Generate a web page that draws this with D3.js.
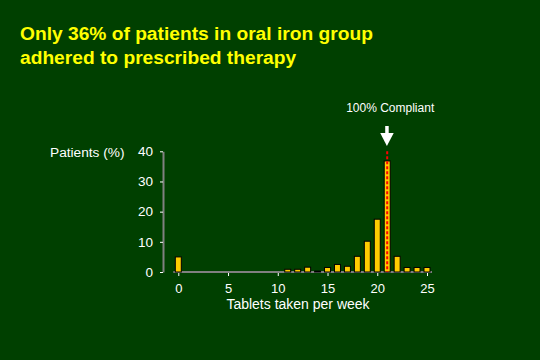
<!DOCTYPE html>
<html>
<head>
<meta charset="utf-8">
<script src="https://cdn.jsdelivr.net/npm/d3@7"></script>
<style>
  html, body { margin: 0; padding: 0; background: #004000; }
  svg { display: block; }
</style>
</head>
<body>
<svg id="chart" width="540" height="360"></svg>
<script>
const titleLines = ["Only 36% of patients in oral iron group", "adhered to prescribed therapy"];
const tablets = [0,1,2,3,4,5,6,7,8,9,10,11,12,13,14,15,16,17,18,19,20,21,22,23,24,25];
const patientsPct = [5,0,0,0,0,0,0,0,0,0,0,0.9,0.9,1.6,0.3,1.5,2.5,1.9,5.2,10.2,17.5,36.8,5.2,1.5,1.5,1.5];
const xTicks = [0,5,10,15,20,25];
const yTicks = [0,10,20,30,40];
const compliantValue = 21;
const compliantLabel = "100% Compliant";
const xLabel = "Tablets taken per week";
const yLabel = "Patients (%)";

const svg = d3.select("#chart");
svg.append("rect").attr("width",540).attr("height",360).attr("fill","#004000");

const font = "Liberation Sans, Arial, sans-serif";

// title
const title = svg.append("text")
  .attr("font-family", font)
  .attr("font-weight", "bold").attr("font-size", 19.2)
  .attr("fill", "#FFFF00");
titleLines.forEach((t,i) => title.append("tspan").attr("x",20).attr("y", 40 + i*23.5).text(t));

const x = d3.scaleLinear().domain([0,25]).range([178.3, 427]);
const y = d3.scaleLinear().domain([0,40]).range([272, 151.3]);

// y axis
const yAxis = svg.append("g").attr("transform","translate(163,0)")
  .call(d3.axisLeft(y).tickValues(yTicks).tickSize(3).tickSizeOuter(0).tickPadding(7));
yAxis.select(".domain").attr("stroke","#808080").attr("stroke-width",2);
yAxis.selectAll(".tick line").attr("stroke","#ffffff").attr("stroke-width",1);
yAxis.selectAll(".tick text").attr("fill","#ffffff").attr("font-family",font).attr("font-size",13.5);

// x axis
const xAxis = svg.append("g").attr("transform","translate(0,273)")
  .call(d3.axisBottom(x).tickValues(xTicks).tickSize(3).tickSizeOuter(0).tickPadding(7.5));
xAxis.select(".domain").remove();
xAxis.selectAll(".tick line").attr("stroke","#ffffff").attr("stroke-width",1);
xAxis.selectAll(".tick text").attr("fill","#ffffff").attr("font-family",font).attr("font-size",13);
svg.append("line")
  .attr("x1", x(-0.5)).attr("x2", x(25.5))
  .attr("y1", 272).attr("y2", 272)
  .attr("stroke","#808080").attr("stroke-width",2);

// bars
svg.append("g").selectAll("rect")
  .data(tablets.map((t,i)=>({t, v: patientsPct[i]})).filter(d => d.v > 0))
  .join("rect")
  .attr("x", d => x(d.t) - 3)
  .attr("width", 6)
  .attr("y", d => y(d.v))
  .attr("height", d => y(0) - y(d.v))
  .attr("fill", "#FFCC00")
  .attr("stroke", "#000000")
  .attr("stroke-width", 1);

// compliant dashed line
const cx = x(compliantValue);
svg.append("line")
  .attr("x1", cx).attr("x2", cx)
  .attr("y1", y(40)).attr("y2", y(0))
  .attr("stroke", "#FF0000").attr("stroke-width", 2)
  .attr("stroke-dasharray", "3,2");

// arrow
svg.append("rect").attr("x", cx - 2).attr("y", 126).attr("width", 3.5).attr("height", 8).attr("fill","#ffffff");
svg.append("path")
  .attr("d", `M${cx-7},133 L${cx+6.5},133 L${cx-0.3},146 Z`)
  .attr("fill","#ffffff");
svg.append("text")
  .attr("x", cx + 3).attr("y", 112)
  .attr("text-anchor","middle")
  .attr("font-family",font).attr("font-size",12)
  .attr("fill","#ffffff").text(compliantLabel);

// axis labels
svg.append("text").attr("x", 50).attr("y", 157)
  .attr("font-family",font).attr("font-size",13.7).attr("fill","#ffffff").text(yLabel);
svg.append("text").attr("x", 298).attr("y", 309).attr("text-anchor","middle")
  .attr("font-family",font).attr("font-size",14).attr("fill","#ffffff").text(xLabel);
</script>
</body>
</html>
